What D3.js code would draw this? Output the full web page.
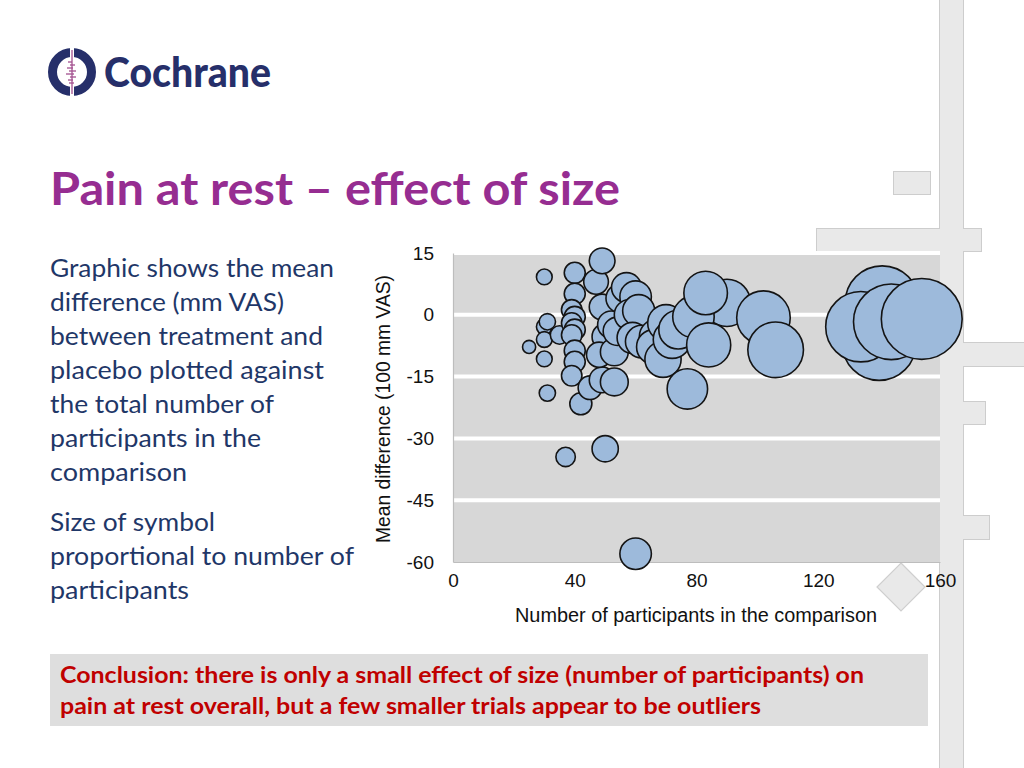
<!DOCTYPE html>
<html><head><meta charset="utf-8">
<script src="https://cdn.jsdelivr.net/npm/d3@7"></script>
<style>html,body{margin:0;padding:0;background:#fff;} svg{display:block;}</style>
</head><body>
<svg id="c" width="1024" height="768"></svg>
<script>
// ---- data ----
const participants = [25,30,30,31,30,35,30,31,37,
  40,40,39,40,39,40,39,40,40,39,
  42,45,47,49,49,49,50,50,48,52,53,53,55,54,57,60,58,61,59,62,60,
  67,66,69,70,72,74,77,90,79,84,83,102,106,
  141,140,134,144,154];
const meanDiff = [-7.8,9.2,-2.9,-1.7,-6.0,-4.9,-10.7,-19.0,-34.5,
  10.2,5.1,1.2,-0.5,-2.0,-3.6,-4.9,-8.7,-11.4,-14.8,
  -21.6,-17.7,8.0,13.1,1.9,-15.8,-32.5,-5.3,-9.7,-2.4,-9.0,-16.3,4.0,-4.0,6.6,4.4,0.0,1.0,-5.6,-6.5,-58.0,
  -5.3,-7.8,-10.8,-2.0,-6.0,-3.6,-18.0,2.9,-0.5,-7.3,5.3,-0.7,-8.5,
  2.9,-7.0,-2.9,-1.7,-1.0];
const xTicks = [0,40,80,120,160];
const yTicks = [15,0,-15,-30,-45,-60];
const titleText = "Pain at rest \u2013 effect of size";
const bodyLines1 = ["Graphic shows the mean","difference (mm VAS)","between treatment and","placebo plotted against","the total number of","participants in the","comparison"];
const bodyLines2 = ["Size of symbol","proportional to number of","participants"];
const conclusionLines = ["Conclusion: there is only a small effect of size (number of participants) on","pain at rest overall, but a few smaller trials appear to be outliers"];
const xTitle = "Number of participants in the comparison";
const yTitle = "Mean difference (100 mm VAS)";

const svg = d3.select("#c");

// ---- decorative background shapes ----
const decor = [
  {x:940,y:-5,w:23,h:780},{x:817,y:229,w:164,h:22},{x:894,y:172,w:36,h:22},
  {x:963,y:343,w:70,h:23},{x:963,y:402,w:22,h:22},{x:963,y:516,w:26,h:23}];
const dg = svg.append("g");
dg.selectAll("rect.s").data(decor).join("rect").attr("class","s")
  .attr("x",d=>d.x).attr("y",d=>d.y).attr("width",d=>d.w).attr("height",d=>d.h)
  .attr("fill","none").attr("stroke","#cdcdcd").attr("stroke-width",2);
dg.selectAll("rect.f").data(decor).join("rect").attr("class","f")
  .attr("x",d=>d.x).attr("y",d=>d.y).attr("width",d=>d.w).attr("height",d=>d.h)
  .attr("fill","#e9e9e9");
dg.append("path").attr("d","M901,563 L925,587 L901,611 L877,587 Z")
  .attr("fill","#e9e9e9").attr("stroke","#cfcfcf").attr("stroke-width",1.2);

// ---- logo ----
const lg = svg.append("g");
lg.append("circle").attr("cx",72).attr("cy",72).attr("r",19.5).attr("fill","none")
  .attr("stroke","#262f6a").attr("stroke-width",9);
lg.append("line").attr("x1",72).attr("x2",72).attr("y1",47).attr("y2",97)
  .attr("stroke","#fff").attr("stroke-width",4);
lg.append("line").attr("x1",72).attr("x2",72).attr("y1",50).attr("y2",94)
  .attr("stroke","#a3508f").attr("stroke-width",1.3);
[[62,4,0],[65,2,3],[68,5,1],[71,3,4],[74,6,2],[77,2,4],[80,4,1],[83,3,2]].forEach(([yy,a,b])=>{
  lg.append("line").attr("x1",72-a).attr("x2",72+b).attr("y1",yy).attr("y2",yy)
    .attr("stroke","#a3508f").attr("stroke-width",1.3);
});
lg.append("text").attr("x",104).attr("y",87).attr("font-family","Lato").attr("font-weight",900)
  .attr("font-size",41).attr("fill","#262f6a").attr("textLength",167).attr("lengthAdjust","spacingAndGlyphs")
  .text("Cochrane");

// ---- title ----
svg.append("text").attr("x",50).attr("y",205).attr("font-family","Lato").attr("font-weight",700)
  .attr("font-size",46).attr("fill","#962d91").attr("textLength",570).attr("lengthAdjust","spacingAndGlyphs")
  .text(titleText);

// ---- body text ----
const bodyW1 = [284,234,273,274,224,211,137];
const bodyW2 = [165,304,139];
const bt = svg.append("g").attr("font-family","Lato").attr("font-size",25).attr("fill","#1f3768");
bt.selectAll("text.a").data(bodyLines1).join("text").attr("class","a")
  .attr("x",50).attr("y",(d,i)=>277+i*34).attr("textLength",(d,i)=>bodyW1[i]).attr("lengthAdjust","spacingAndGlyphs").text(d=>d);
bt.selectAll("text.b").data(bodyLines2).join("text").attr("class","b")
  .attr("x",50).attr("y",(d,i)=>531+i*34).attr("textLength",(d,i)=>bodyW2[i]).attr("lengthAdjust","spacingAndGlyphs").text(d=>d);

// ---- conclusion box ----
svg.append("rect").attr("x",50).attr("y",654).attr("width",878).attr("height",72).attr("fill","#dedede");
const concW = [804,701];
svg.append("g").attr("font-family","Lato").attr("font-weight",700).attr("font-size",23).attr("fill","#c00000")
  .selectAll("text").data(conclusionLines).join("text")
  .attr("x",60).attr("y",(d,i)=>683+i*31).attr("textLength",(d,i)=>concW[i]).attr("lengthAdjust","spacingAndGlyphs").text(d=>d);

// ---- chart ----
const x = d3.scaleLinear().domain([0,160]).range([453,940]);
const y = d3.scaleLinear().domain([-60,15]).range([562,253]);
const r = d3.scaleLinear().domain([0,160]).range([0,42]);
const cg = svg.append("g");
cg.append("rect").attr("x",x(0)).attr("y",y(15)-2).attr("width",x(160)-x(0)).attr("height",y(-60)-y(15)+2)
  .attr("fill","#d7d7d7");
cg.selectAll("line.grid").data(yTicks.filter(d=>d>-60)).join("line").attr("class","grid")
  .attr("x1",x(0)).attr("x2",x(160)).attr("y1",d=>y(d)).attr("y2",d=>y(d))
  .attr("stroke","#fff").attr("stroke-width",4);

const xa = cg.append("g").attr("transform",`translate(0,${y(-60)})`)
  .call(d3.axisBottom(x).tickValues(xTicks).tickSize(0).tickPadding(12).tickFormat(d=>String(d)));
const ya = cg.append("g").attr("transform",`translate(${x(0)},0)`)
  .call(d3.axisLeft(y).tickValues(yTicks).tickSize(0).tickPadding(19).tickFormat(d=>String(d)));
[xa,ya].forEach(a=>{
  a.select(".domain").attr("stroke","#bdbdbd").attr("stroke-width",1.2);
  a.selectAll("text").attr("font-family","Liberation Sans, Arial, sans-serif").attr("font-size",19).attr("fill","#111");
});

cg.append("text").attr("x",696).attr("y",622).attr("text-anchor","middle")
  .attr("font-family","Liberation Sans, Arial, sans-serif").attr("font-size",20).attr("fill","#111")
  .attr("textLength",362).attr("lengthAdjust","spacingAndGlyphs").text(xTitle);
cg.append("text").attr("transform","translate(390,409) rotate(-90)").attr("text-anchor","middle")
  .attr("font-family","Liberation Sans, Arial, sans-serif").attr("font-size",20).attr("fill","#111")
  .attr("textLength",268).attr("lengthAdjust","spacingAndGlyphs").text(yTitle);

const pts = participants.map((n,i)=>({n, v:meanDiff[i]}));
cg.append("g").selectAll("circle").data(pts).join("circle")
  .attr("cx",d=>x(d.n)).attr("cy",d=>y(d.v)).attr("r",d=>r(d.n))
  .attr("fill","#9dbadb").attr("stroke","#141414").attr("stroke-width",1.6);
</script>
</body></html>
